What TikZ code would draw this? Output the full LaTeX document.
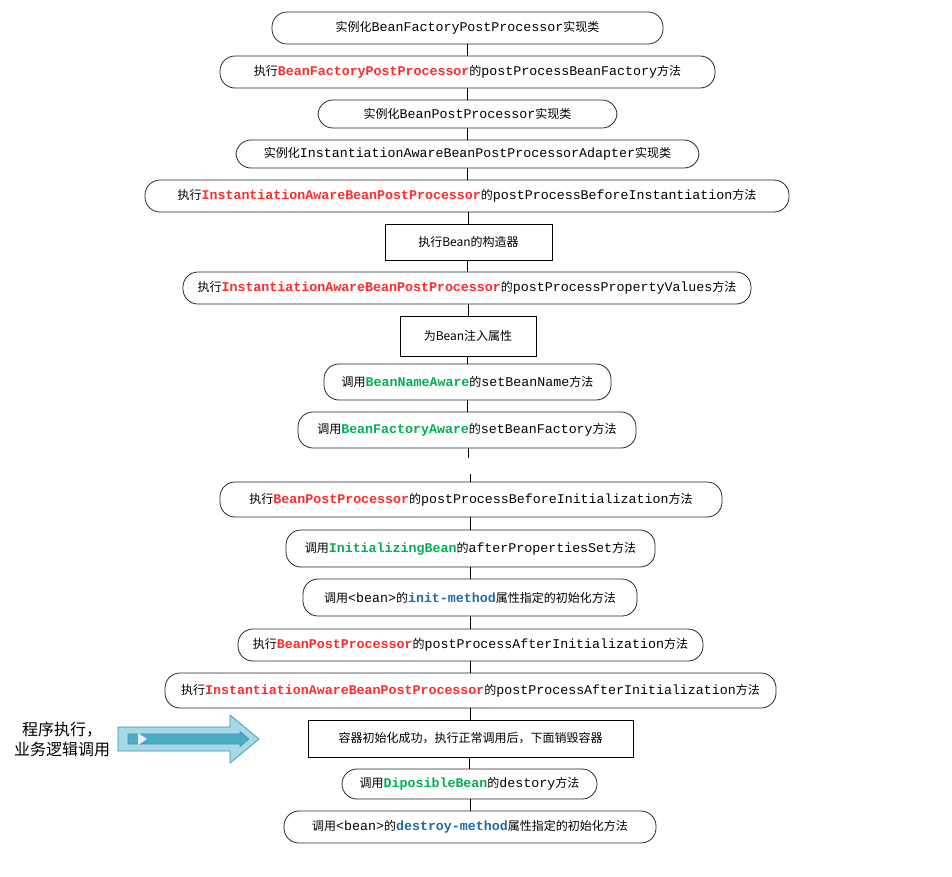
\documentclass[tikz,border=0pt]{standalone}
\usepackage{fontspec}
\usepackage{xcolor}
\usepackage{tikz}
\usetikzlibrary{calc,positioning}
\newfontfamily\cjk{Noto Sans CJK SC}
\setmonofont{Liberation Mono}
\definecolor{procred}{HTML}{FF2A2A}
\definecolor{awaregreen}{HTML}{00B050}
\definecolor{attrblue}{HTML}{1F6BA5}
\definecolor{arrowlight}{HTML}{A8D8E6}
\definecolor{arrowdark}{HTML}{4BACC6}
\definecolor{arrowline}{HTML}{3A94AE}
\newcommand{\code}[1]{{\fontsize{13.3pt}{16pt}\ttfamily #1}}
\newcommand{\redcode}[1]{\code{\bfseries\color{procred}#1}}
\newcommand{\greencode}[1]{\code{\bfseries\color{awaregreen}#1}}
\newcommand{\bluecode}[1]{\code{\bfseries\color{attrblue}#1}}

\begin{document}
\begin{tikzpicture}[
    x=1pt, y=-1pt,
    phase/.style={draw=black!85, line width=0.8pt, rounded corners=15pt,
        inner sep=0pt, font=\fontsize{12pt}{14pt}\cjk},
    plainbox/.style={draw=black, line width=0.8pt, inner sep=0pt,
        font=\fontsize{12pt}{14pt}\cjk},
    link/.style={draw=black, line width=0.8pt}]
\useasboundingbox (0,0) rectangle (952,876);

% instantiation
\node[phase, minimum width=391pt, minimum height=32pt] (instBFPP) at (467.5,28)
    {实例化\code{BeanFactoryPostProcessor}实现类};
\node[phase, minimum width=495pt, minimum height=32pt] (callBFPP) at (467.5,72)
    {执行\redcode{BeanFactoryPostProcessor}的\code{postProcessBeanFactory}方法};
\node[phase, minimum width=299pt, minimum height=28pt] (instBPP) at (467.5,114)
    {实例化\code{BeanPostProcessor}实现类};
\node[phase, minimum width=463pt, minimum height=28pt] (instIABPP) at (467.5,154)
    {实例化\code{InstantiationAwareBeanPostProcessorAdapter}实现类};
\node[phase, minimum width=644pt, minimum height=32pt] (beforeInst) at (467,196)
    {执行\redcode{InstantiationAwareBeanPostProcessor}的\code{postProcessBeforeInstantiation}方法};
\node[plainbox, minimum width=167pt, minimum height=36pt] (ctor) at (468.5,242)
    {执行Bean的构造器};
\node[phase, minimum width=568pt, minimum height=32pt] (propValues) at (467,288)
    {执行\redcode{InstantiationAwareBeanPostProcessor}的\code{postProcessPropertyValues}方法};
\node[plainbox, minimum width=136pt, minimum height=40pt] (inject) at (468,336)
    {为Bean注入属性};
\node[phase, minimum width=287pt, minimum height=36pt] (beanName) at (467.5,382)
    {调用\greencode{BeanNameAware}的\code{setBeanName}方法};
\node[phase, minimum width=338pt, minimum height=36pt] (beanFactory) at (467,430)
    {调用\greencode{BeanFactoryAware}的\code{setBeanFactory}方法};
\coordinate (gapTop) at (468,458);
\coordinate (gapBot) at (470,474);

% initialization
\node[phase, minimum width=502pt, minimum height=35pt] (beforeInit) at (471,499.5)
    {执行\redcode{BeanPostProcessor}的\code{postProcessBeforeInitialization}方法};
\node[phase, minimum width=369pt, minimum height=37pt] (afterProps) at (470.5,548.5)
    {调用\greencode{InitializingBean}的\code{afterPropertiesSet}方法};
\node[phase, minimum width=334pt, minimum height=37pt] (initMethod) at (470,597.5)
    {调用\code{<bean>}的\bluecode{init-method}属性指定的初始化方法};
\node[phase, minimum width=465pt, minimum height=32pt] (afterInit) at (470.5,645)
    {执行\redcode{BeanPostProcessor}的\code{postProcessAfterInitialization}方法};
\node[phase, minimum width=611pt, minimum height=35pt] (iaAfterInit) at (470.5,690.5)
    {执行\redcode{InstantiationAwareBeanPostProcessor}的\code{postProcessAfterInitialization}方法};
\node[plainbox, minimum width=325pt, minimum height=37pt] (ready) at (470.5,738.5)
    {容器初始化成功，执行正常调用后，下面销毁容器};

% destruction
\node[phase, minimum width=255pt, minimum height=30pt] (destroy) at (469.5,784)
    {调用\greencode{DiposibleBean}的\code{destory}方法};
\node[phase, minimum width=372pt, minimum height=32pt] (destroyMethod) at (470,827)
    {调用\code{<bean>}的\bluecode{destroy-method}属性指定的初始化方法};

% connectors
\foreach \a/\b in {instBFPP/callBFPP, callBFPP/instBPP, instBPP/instIABPP,
    instIABPP/beforeInst, beforeInst/ctor, ctor/propValues, propValues/inject,
    inject/beanName, beanName/beanFactory,
    beforeInit/afterProps, afterProps/initMethod, initMethod/afterInit,
    afterInit/iaAfterInit, iaAfterInit/ready, ready/destroy, destroy/destroyMethod}
  \draw[link] (\b.north) -- (\b.north |- \a.south);
\draw[link] (gapTop |- beanFactory.south) -- (gapTop);
\draw[link] (gapBot) -- (gapBot |- beforeInit.north);

% running phase
\node[font=\fontsize{16pt}{20pt}\cjk, align=center, inner sep=0pt] (running) at (62,739)
    {程序执行，\\业务逻辑调用};
\draw[fill=arrowlight, draw=arrowline, line width=0.7pt]
    (118,727) -- (230,727) -- (230,715) -- (259,739) -- (230,763)
    -- (230,751) -- (118,751) -- cycle;
\draw[fill=arrowdark, draw=arrowline, line width=0.6pt]
    (128,734) -- (240,734) -- (240,731.5) -- (249,739) -- (240,746.5)
    -- (240,744) -- (128,744) -- cycle;
\fill[white!85!arrowdark] (138,733) -- (147,739) -- (138,745) -- cycle;

\end{tikzpicture}
\end{document}
